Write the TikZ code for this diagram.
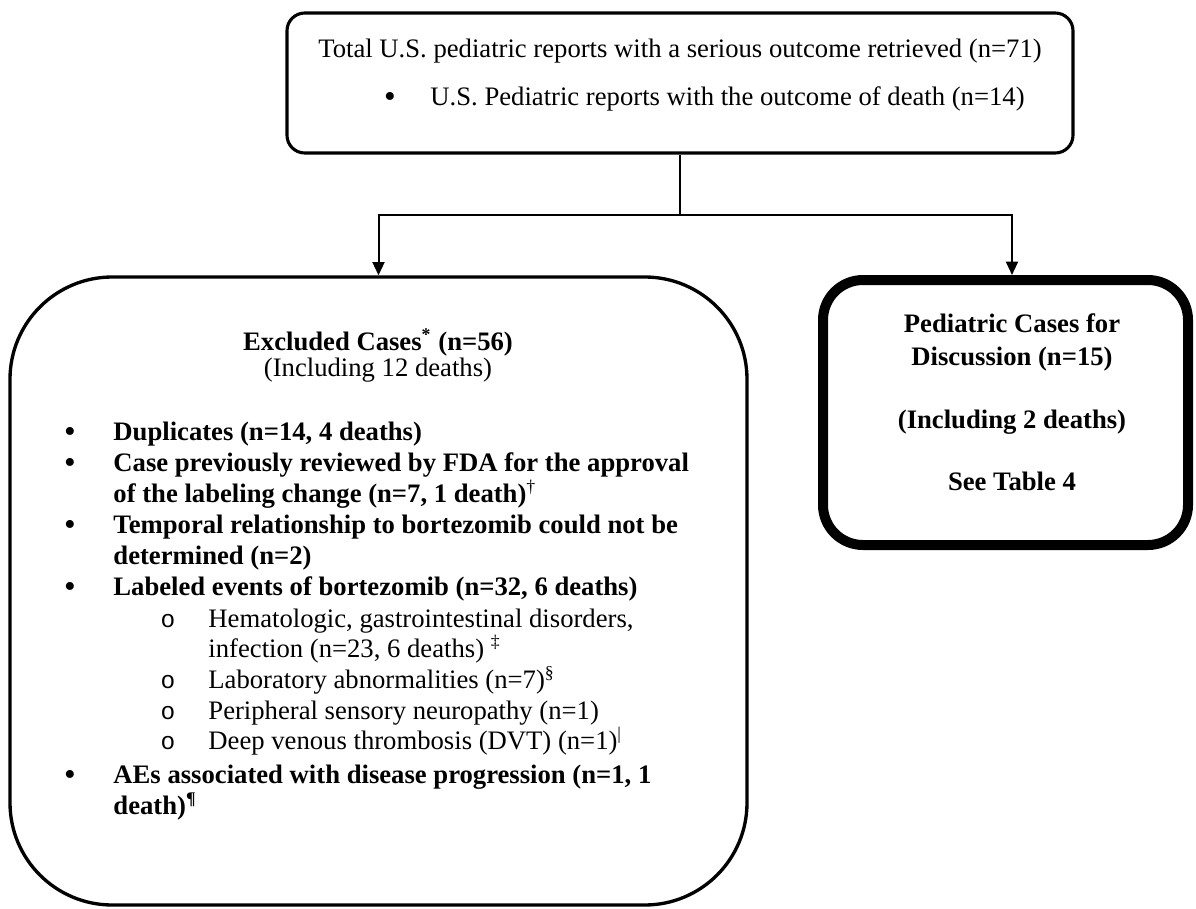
\documentclass[tikz,border=0pt]{standalone}
\usepackage{fontspec}
\setmainfont{Liberation Serif}
\newfontfamily\cnfont{Liberation Mono}
\usetikzlibrary{arrows.meta}
\newcommand{\bigbul}{\smash{\raisebox{-1.2pt}{•}}}
\begin{document}
\begin{tikzpicture}[x=0.45pt,y=-0.45pt,
  box/.style={draw, line width=1.4pt, rounded corners=#1, inner sep=0pt},
  txt/.style={inner sep=0pt, anchor=base west, font=\fontsize{12pt}{14pt}\selectfont},
  btxt/.style={txt, font=\fontsize{12pt}{14pt}\selectfont\bfseries},
  ctxt/.style={txt, anchor=base},
  cbtxt/.style={btxt, anchor=base},
  bul/.style={inner sep=0pt, anchor=base, font=\fontsize{15pt}{15pt}\selectfont},
  sbul/.style={inner sep=0pt, anchor=base, font=\fontsize{11pt}{14pt}\cnfont},
  conn/.style={line width=0.9pt},
  arr/.style={conn, -{Triangle[width=5.4pt,length=6pt]}}]
\useasboundingbox (0,0) rectangle (1196,909);

% boxes
\node[box=8pt, minimum width=353.7pt, minimum height=63pt] (top) at (680,83) {};
\node[box=46pt, line width=1.5pt, minimum width=331.65pt, minimum height=282.6pt] (left) at (378.5,591) {};
\node[box=18pt, line width=4.5pt, minimum width=164.25pt, minimum height=119.25pt] (rb) at (1005.5,412.5) {};

% top text
\node[ctxt] (t1) at (680,57) {Total U.S. pediatric reports with a serious outcome retrieved (n=71)};
\node[bul] (tb2) at (390,105) {\bigbul};
\node[txt] (t2) at (430,105) {U.S. Pediatric reports with the outcome of death (n=14)};

% left text
\node[cbtxt] (ex1) at (378,350) {Excluded Cases\textsuperscript{*} (n=56)};
\node[ctxt] (ex2) at (378,376) {(Including 12 deaths)};

\node[bul] (b1) at (70,440) {\bigbul};
\node[btxt] (l1) at (113,440) {Duplicates (n=14, 4 deaths)};
\node[bul] (b2) at (70,471) {\bigbul};
\node[btxt] (l2) at (113,471) {Case previously reviewed by FDA for the approval};
\node[btxt] (l3) at (113,502) {of the labeling change (n=7, 1 death)\textsuperscript{\mdseries †}};
\node[bul] (b3) at (70,533) {\bigbul};
\node[btxt] (l4) at (113,533) {Temporal relationship to bortezomib could not be};
\node[btxt] (l5) at (113,564) {determined (n=2)};
\node[bul] (b4) at (70,595) {\bigbul};
\node[btxt] (l6) at (113,595) {Labeled events of bortezomib (n=32, 6 deaths)};
\node[sbul] (s1) at (168,627) {o};
\node[txt] (l7) at (208,627) {Hematologic, gastrointestinal disorders,};
\node[txt] (l8) at (208,657) {infection (n=23, 6 deaths) \textsuperscript{‡}};
\node[sbul] (s2) at (168,688) {o};
\node[txt] (l9) at (208,688) {Laboratory abnormalities (n=7)\textsuperscript{§}};
\node[sbul] (s3) at (168,719) {o};
\node[txt] (l10) at (208,719) {Peripheral sensory neuropathy (n=1)};
\node[sbul] (s4) at (168,749) {o};
\node[txt] (l11) at (208,749) {Deep venous thrombosis (DVT) (n=1)\textsuperscript{|}};
\node[bul] (b5) at (70,783) {\bigbul};
\node[btxt] (l12) at (113,783) {AEs associated with disease progression (n=1, 1};
\node[btxt] (l13) at (113,814) {death)\textsuperscript{¶}};

% right text
\node[cbtxt] (r1) at (1012,332) {Pediatric Cases for};
\node[cbtxt] (r2) at (1012,365) {Discussion (n=15)};
\node[cbtxt] (r3) at (1012,428) {(Including 2 deaths)};
\node[cbtxt] (r4) at (1012,490) {See Table 4};

% connectors
\coordinate (split) at (680,215);
\draw[conn] (top.south) -- (split);
\draw[arr] (split) -| (left.north);
\draw[arr] (split) -| (r1.north |- rb.north);
\end{tikzpicture}
\end{document}
